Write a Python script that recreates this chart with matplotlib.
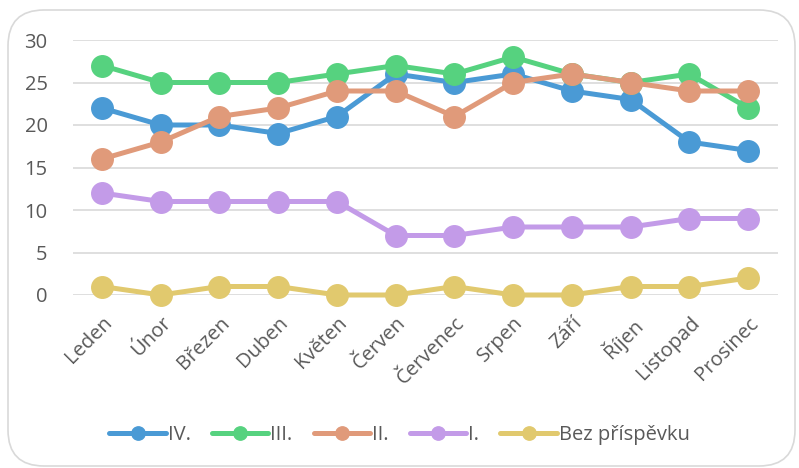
import matplotlib
matplotlib.use("Agg")
import matplotlib.pyplot as plt
from matplotlib.patches import FancyBboxPatch

months = ["Leden", "Únor", "Březen", "Duben", "Květen", "Červen", "Červenec",
          "Srpen", "Září", "Říjen", "Listopad", "Prosinec"]
s_iv = [22, 20, 20, 19, 21, 26, 25, 26, 24, 23, 18, 17]
s_iii = [27, 25, 25, 25, 26, 27, 26, 28, 26, 25, 26, 22]
s_ii = [16, 18, 21, 22, 24, 24, 21, 25, 26, 25, 24, 24]
s_i = [12, 11, 11, 11, 11, 7, 7, 8, 8, 8, 9, 9]
s_bez = [1, 0, 1, 1, 0, 0, 1, 0, 0, 1, 1, 2]
names = ["IV.", "III.", "II.", "I.", "Bez příspěvku"]
series = [s_iv, s_iii, s_ii, s_i, s_bez]
colors = ["#4a9ad5", "#56d27f", "#e09a7a", "#c39be8", "#e1c96e"]

plt.rcParams['font.family'] = ['Open Sans', 'DejaVu Sans']
txt = "#595959"

fig = plt.figure(figsize=(7.99, 4.68), dpi=100)
fig.patches.append(FancyBboxPatch((8/799, 1 - 466/468), 787/799, 456/468,
                                  boxstyle="round,pad=0,rounding_size=0.045",
                                  transform=fig.transFigure, facecolor="white",
                                  edgecolor="#d9d9d9", linewidth=1.2, zorder=-5,
                                  mutation_aspect=799/468))
ax = fig.add_axes([72.6/799, 1 - 295/468, (777.5 - 72.6)/799, (295 - 40)/468])
ax.set_zorder(2)
ax.set_facecolor("none")
x = list(range(len(months)))
for i, (vals, name, c) in enumerate(zip(series, names, colors)):
    ax.plot(x, vals, color=c, lw=3.6, marker="o", ms=15.5, label=name,
            clip_on=False, zorder=3 + i, solid_capstyle="round")

ax.set_xlim(-0.5, 11.5)
ax.set_ylim(0, 30)
ax.set_yticks(range(0, 31, 5))
ax.grid(axis="y", color="#d9d9d9", lw=1.2)
ax.set_axisbelow(True)
for sp in ax.spines.values():
    sp.set_visible(False)
ax.tick_params(axis="both", length=0, labelcolor=txt, labelsize=14.5)
ax.tick_params(axis="y", pad=18)
ax.set_xticks(x)
ax.set_xticklabels(months, rotation=45, ha="right", rotation_mode="anchor")
ax.tick_params(axis="x", pad=13)

leg = fig.legend(loc="center", bbox_to_anchor=(0.5, 1 - 435/468), ncol=5,
                 frameon=False, fontsize=14.5, handlelength=2.8, markerscale=0.62,
                 columnspacing=1.05, handletextpad=0.1, labelcolor=txt)
plt.savefig("out.png", dpi=100)
